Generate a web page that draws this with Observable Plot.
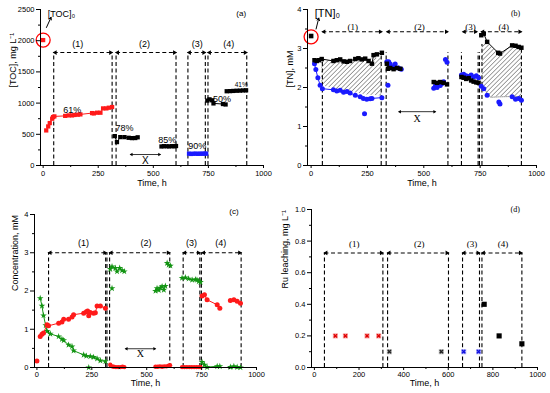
<!DOCTYPE html>
<html><head><meta charset="utf-8">
<script src="https://cdn.jsdelivr.net/npm/d3@7"></script>
<script src="https://cdn.jsdelivr.net/npm/@observablehq/plot@0.6"></script>
<style>
body{margin:0;background:#fff}
#wrap{position:relative;width:550px;height:393px;overflow:hidden}
.p{position:absolute}
</style></head>
<body>
<svg width="0" height="0" style="position:absolute">
  <defs>
    <pattern id="hatch" width="3.2" height="3.2" patternUnits="userSpaceOnUse" patternTransform="rotate(45)">
      <line x1="0" y1="0" x2="0" y2="3.2" stroke="#333" stroke-width="0.9"/>
    </pattern>
  </defs>
</svg>
<div id="wrap"></div>
<script>
// ---------- Panel (a): TOC ----------
const aT0 = [0], aV0 = [2010];
const aRedT = [14, 23, 30, 41, 45, 51, 100, 116, 131, 142, 157, 169, 222, 230, 245, 260, 272, 287, 298, 313];
const aRedV = [562, 626, 680, 750, 776, 787, 795, 803, 803, 810, 814, 819, 840, 835, 846, 846, 915, 915, 926, 937];
const aBlk2T = [325, 335, 350, 369, 388, 403, 418, 429];
const aBlk2V = [471, 375, 455, 455, 444, 439, 440, 452];
const aBlk3T = [537, 548, 560, 572, 584, 595, 603];
const aBlk3V = [305, 310, 308, 306, 310, 308, 312];
const aBluT = [662, 672, 682, 692, 702, 712, 722, 732, 740];
const aBluV = [190, 185, 188, 190, 186, 190, 188, 192, 190];
const aBlk4T = [745, 755, 767, 773, 816, 828];
const aBlk4V = [1040, 1060, 1045, 995, 985, 978];
const aBlk5T = [833, 848, 863, 878, 893, 908, 921];
const aBlk5V = [1190, 1192, 1195, 1198, 1200, 1203, 1205];
const aPctText = ["61%", "78%", "85%", "90%", "50%"];
const aPctT = [132, 369, 563, 699, 812];
const aPctV = [893, 598, 400, 310, 1069];
const aBrX1 = [48, 331, 657, 748], aBrX2 = [313, 603, 736, 924];
const aVLines = [48, 313, 331, 603, 657, 736, 748, 924];
const aBrY = 1810;
const aSecLabels = ["(1)", "(2)", "(3)", "(4)"], aSecT = [157, 460, 699, 842];

// ---------- Panel (b): TN ----------
const bT0 = [0], bV0 = [3.32];
const bBlk1T = [15, 25, 35, 47, 99, 114, 129, 144, 159, 173, 196, 210, 225, 240, 255, 270, 277, 292, 314];
const bBlk1V = [2.70, 2.68, 2.70, 2.73, 2.68, 2.70, 2.72, 2.67, 2.66, 2.68, 2.73, 2.75, 2.72, 2.74, 2.68, 2.61, 2.83, 2.85, 2.89];
const bBlu1T = [15, 21, 30, 40, 50, 99, 114, 129, 144, 159, 173, 196, 218, 232, 247, 262, 270, 314];
const bBlu1V = [2.61, 2.46, 2.25, 2.06, 1.97, 1.94, 1.91, 1.93, 1.88, 1.90, 1.86, 1.80, 1.76, 1.72, 1.70, 1.71, 1.72, 1.74];
const bBluOutT = [237, 341], bBluOutV = [1.33, 2.06];
const bBlk2T = [336, 341, 351, 366, 381, 396], bBlk2V = [2.61, 2.48, 2.50, 2.47, 2.50, 2.48];
const bBlu2T = [336, 344, 351, 366, 373, 388, 400], bBlu2V = [2.66, 2.66, 2.60, 2.54, 2.60, 2.50, 2.47];
const bBlk3T = [544, 559, 573, 588, 603], bBlk3V = [2.14, 2.12, 2.14, 2.12, 2.08];
const bBlu3T = [544, 552, 559, 566, 573, 581, 588], bBlu3V = [1.98, 2.05, 2.00, 2.07, 2.05, 2.10, 2.15];
const bBlu3bT = [596, 603], bBlu3bV = [2.72, 2.65];
const bBlk4T = [667, 677, 688, 699, 710, 721, 733, 743], bBlk4V = [2.27, 2.25, 2.22, 2.24, 2.18, 2.15, 2.13, 2.12];
const bBlu4T = [667, 677, 688, 699, 710, 721, 733, 743], bBlu4V = [2.32, 2.34, 2.30, 2.28, 2.32, 2.27, 2.30, 2.25];
const bBlk5T = [755, 766, 781, 830, 838, 892, 907, 921, 933], bBlk5V = [3.34, 3.38, 3.17, 2.89, 2.87, 3.08, 3.07, 3.04, 3.02];
const bBlu5T = [755, 766, 781, 833, 838, 892, 907, 921, 933], bBlu5V = [2.03, 1.97, 1.80, 1.63, 1.58, 1.76, 1.70, 1.72, 1.67];
const bHatch1T = [47, 100, 150, 200, 250, 313], bHatch1Hi = [2.70, 2.68, 2.68, 2.70, 2.72, 2.76], bHatch1Lo = [2.05, 1.96, 1.90, 1.86, 1.81, 1.78];
const bHatch2T = [760, 781, 796, 833, 893, 935], bHatch2Hi = [3.12, 3.16, 3.07, 2.86, 3.08, 3.03], bHatch2Lo = [2.05, 1.85, 1.75, 1.76, 1.77, 1.77];
const bBrX1 = [50, 336, 673, 755], bBrX2 = [314, 607, 736, 933];
const bVLines = [50, 311, 333, 607, 667, 741, 747, 758, 933];
const bVTops = [2.7, 2.9, 2.9, 2.9, 2.9, 2.9, 2.9, 3.1, 3.0];
const bBrY = 3.43;
const bSecT = [185, 481, 707, 855];

// ---------- Panel (c): concentrations ----------
const cRed0T = [0], cRed0V = [0.17];
const cRed1T = [15, 23, 30, 46, 53, 99, 114, 122, 144, 160, 167, 213, 225, 231, 236, 243, 258, 266, 274, 289, 312];
const cRed1V = [0.81, 0.87, 0.90, 1.12, 1.09, 1.16, 1.19, 1.26, 1.26, 1.32, 1.38, 1.42, 1.46, 1.48, 1.35, 1.44, 1.42, 1.43, 1.61, 1.61, 1.55];
const cGrn1T = [15, 23, 30, 40, 46, 61, 99, 114, 122, 144, 160, 167, 213, 225, 243, 258, 274, 289, 312];
const cGrn1V = [1.81, 1.61, 1.36, 1.10, 0.95, 0.88, 0.81, 0.74, 0.71, 0.59, 0.55, 0.44, 0.33, 0.30, 0.29, 0.27, 0.23, 0.18, 0.16];
const cGrnOutT = [236, 342], cGrnOutV = [0.0, 2.07];
const cGrn2T = [334, 342, 357, 365, 377, 388, 398], cGrn2V = [2.57, 2.64, 2.60, 2.51, 2.60, 2.54, 2.51];
const cGrn3T = [540, 547, 555, 562, 570, 578, 585], cGrn3V = [2.00, 2.07, 2.02, 2.08, 2.12, 2.03, 2.13];
const cGrn3bT = [593, 600, 608], cGrn3bV = [2.73, 2.68, 2.66];
const cRed2T = [334, 342, 350, 360, 370, 380, 390, 398], cRed2V = [0.07, 0.03, 0.02, 0.01, 0.01, 0.01, 0.02, 0.01];
const cRed3T = [540, 550, 560, 570, 580, 590, 600, 606], cRed3V = [0.02, 0.02, 0.03, 0.02, 0.03, 0.03, 0.05, 0.06];
const cGrn4T = [661, 676, 691, 707, 722, 729, 737, 745], cGrn4V = [2.34, 2.35, 2.32, 2.29, 2.30, 2.29, 2.25, 2.23];
const cRed4T = [661, 672, 683, 694, 705, 716, 727, 738, 745], cRed4V = [0.01, 0.01, 0.01, 0.01, 0.01, 0.01, 0.01, 0.01, 0.01];
const cRed5T = [752, 763, 775, 821, 833], cRed5V = [1.87, 1.90, 1.77, 1.64, 1.55];
const cRed6T = [881, 897, 912, 927], cRed6V = [1.75, 1.77, 1.73, 1.68];
const cGrn5T = [752, 763, 775, 821, 833], cGrn5V = [0.14, 0.07, 0.01, 0.03, 0.03];
const cGrn6T = [881, 897, 912, 927], cGrn6V = [0.01, 0.03, 0.01, 0.0];
const cBrX1 = [53, 331, 666, 752], cBrX2 = [316, 605, 742, 930];
const cVLines = [53, 313, 319, 331, 605, 666, 742, 749, 930];
const cBrY = 3.0;
const cSecT = [212, 497, 704, 837];

// ---------- Panel (d): Ru leaching ----------
const dRedT = [94, 139, 236, 288], dRedV = [0.2, 0.2, 0.2, 0.2];
const dGryT = [336, 569], dGryV = [0.1, 0.1];
const dBluT = [669, 736], dBluV = [0.1, 0.1];
const dBlkT = [761, 828, 930], dBlkV = [0.4, 0.2, 0.15];
const dBrX1 = [45, 328, 664, 751], dBrX2 = [307, 601, 740, 930];
const dVLines = [45, 307, 328, 601, 664, 740, 751, 930];
const dBrY = 0.725;
const dSecT = [179, 470, 706, 845];

// ---------- helpers ----------
const RED = "#ff1a1a", BLUE = "#1a1aff", GREEN = "#129412";
const pts = (T, V) => T.map((t, i) => ({t, v: V[i]}));
const dash = "4,2.6";
const SANS = "Liberation Sans, Arial, sans-serif";
const SERIF = "Liberation Serif, Times New Roman, serif";

function series(T, V, color, symbol, r, line = true) {
  const d = pts(T, V);
  const m = [];
  if (line) m.push(Plot.line(d, {x: "t", y: "v", stroke: color, strokeWidth: 1}));
  m.push(Plot.dot(d, {x: "t", y: "v", fill: color, stroke: "none", symbol, r}));
  return m;
}
function brackets(X1, X2, Y, VL, VTops, labels, labelT, labelY, font) {
  const br = X1.map((x, i) => ({x1: x, x2: X2[i]}));
  const vl = VL.map((x, i) => ({x, top: VTops ? VTops[i] : Y}));
  return [
    Plot.ruleX(vl, {x: "x", y1: 0, y2: "top", strokeDasharray: dash, strokeWidth: 1.1}),
    Plot.link(br, {x1: "x1", x2: "x2", y1: () => Y, y2: () => Y, strokeDasharray: dash, strokeWidth: 1.1, markerStart: "arrow", markerEnd: "arrow"}),
    Plot.text(labels.map((s, i) => ({s, t: labelT[i]})), {x: "t", y: () => labelY, text: "s", fontSize: 9, fontFamily: font})
  ];
}
function xArrow(x1, x2, y, ly, font) {
  return [
    Plot.link([{x1, x2}], {x1: "x1", x2: "x2", y1: () => y, y2: () => y, strokeWidth: 0.8, markerStart: "arrow", markerEnd: "arrow"}),
    Plot.text(["X"], {x: () => (x1 + x2) / 2, y: () => ly, text: d => d, fontSize: 10, fontFamily: font})
  ];
}
function panel(o) {
  return Plot.plot({
    width: 275, height: o.h,
    marginLeft: o.ml, marginRight: o.mr, marginTop: o.mt, marginBottom: o.mb,
    x: {domain: o.xDomain}, y: {domain: o.yDomain},
    style: {fontFamily: SANS, background: "white", overflow: "visible", color: "#000"},
    marks: [
      ...o.marks,
      Plot.ruleX([o.xDomain[0]], {strokeWidth: 1}),
      Plot.ruleY([o.yDomain[0]], {strokeWidth: 1}),
      Plot.axisX({ticks: o.xTicks, tickSize: o.ts, tickPadding: o.tp, fontSize: 7.5, label: null, tickFormat: d => String(d)}),
      Plot.axisX({ticks: o.xMinor, tickSize: 2, tickFormat: () => "", label: null}),
      Plot.axisY({ticks: o.yTicks, tickSize: 4, tickPadding: 2, fontSize: 7.5, label: null, tickFormat: o.yFmt}),
      Plot.axisY({ticks: o.yMinor, tickSize: 2, tickFormat: () => "", label: null}),
      Plot.text(["Time, h"], {frameAnchor: "bottom", dy: o.xLabDy, text: d => d, fontSize: 9}),
      Plot.text([o.yLabel], {frameAnchor: "left", dx: o.yLabDx, rotate: -90, text: d => d, fontSize: 9}),
      Plot.text([o.tag], {x: () => o.tagT, y: () => o.tagV, text: d => d, fontSize: 8, fontFamily: o.tagFont || SANS})
    ]
  });
}
function fixMarkers(svg) {
  d3.select(svg).selectAll("marker").each(function() {
    const m = d3.select(this);
    const c = m.attr("stroke") || "#000";
    m.attr("stroke-dasharray", "none").attr("orient", "auto-start-reverse").attr("fill", c).attr("stroke", "none");
    m.selectAll("path").attr("d", "M-4,-3.2L1.5,0L-4,3.2Z");
  });
  return svg;
}
function place(svg, left, top) {
  const div = document.createElement("div");
  div.className = "p"; div.style.left = left + "px"; div.style.top = top + "px";
  div.appendChild(fixMarkers(svg));
  document.getElementById("wrap").appendChild(div);
}

// ---------- (a) ----------
place(panel({
  h: 196, ml: 40, mr: 12, mt: 9, mb: 31, ts: 3, tp: 2,
  xDomain: [-12, 1000], yDomain: [0, 2500],
  xTicks: [0, 250, 500, 750, 1000], xMinor: [125, 375, 625, 875],
  yTicks: [0, 500, 1000, 1500, 2000, 2500], yMinor: [250, 750, 1250, 1750, 2250],
  yFmt: d => String(d), yLabel: "[TOC], mg L\u207B\u00B9", yLabDx: -27, xLabDy: 20,
  tag: "(a)", tagT: 899, tagV: 2431,
  marks: [
    ...brackets(aBrX1, aBrX2, aBrY, aVLines, null, aSecLabels, aSecT, 1950, SANS),
    ...xArrow(396, 532, 176, 69, SANS),
    ...series(aT0, aV0, RED, "square", 2.4, false),
    Plot.dot([{t: 0, v: 2010}], {x: "t", y: "v", r: 7, stroke: "red", fill: "none", strokeWidth: 1.3}),
    Plot.arrow([{x1: 15, y1: 2212, x2: 36, y2: 2375}], {x1: "x1", y1: "y1", x2: "x2", y2: "y2", headLength: 4, strokeWidth: 1}),
    Plot.text(["[TOC]\u2080"], {x: () => 21, y: () => 2420, text: d => d, textAnchor: "start", fontSize: 9}),
    ...series(aRedT, aRedV, RED, "square", 2.4),
    ...series(aBlk2T, aBlk2V, "#000", "square", 2.4),
    ...series(aBlk3T, aBlk3V, "#000", "square", 2.4),
    ...series(aBluT, aBluV, BLUE, "square", 2.4),
    ...series(aBlk4T, aBlk4V, "#000", "square", 2.4),
    ...series(aBlk5T, aBlk5V, "#000", "square", 2.4),
    Plot.text(aPctText.map((s, i) => ({s, t: aPctT[i], v: aPctV[i]})), {x: "t", y: "v", text: "s", fontSize: 9}),
    Plot.text(["41%"], {x: () => 899, y: () => 1295, text: d => d, fontSize: 6.5})
  ]
}), 0, 0);

// ---------- (b) ----------
place(panel({
  h: 196, ml: 32, mr: 14, mt: 9, mb: 31, ts: 3, tp: 2,
  xDomain: [-16, 1000], yDomain: [0, 4],
  xTicks: [0, 250, 500, 750, 1000], xMinor: [125, 375, 625, 875],
  yTicks: [0, 1, 2, 3, 4], yMinor: [0.5, 1.5, 2.5, 3.5],
  yFmt: d => String(d), yLabel: "[TN], mM", yLabDx: -17, xLabDy: 20,
  tag: "(b)", tagT: 907, tagV: 3.89, tagFont: SERIF,
  marks: [
    Plot.areaY(bHatch1T.map((t, i) => ({t, lo: bHatch1Lo[i], hi: bHatch1Hi[i]})), {x: "t", y1: "lo", y2: "hi", fill: "url(#hatch)"}),
    Plot.areaY(bHatch2T.map((t, i) => ({t, lo: bHatch2Lo[i], hi: bHatch2Hi[i]})), {x: "t", y1: "lo", y2: "hi", fill: "url(#hatch)"}),
    Plot.line(bHatch2T.map((t, i) => ({t, v: bHatch2Lo[i]})), {x: "t", y: "v", stroke: "#555", strokeWidth: 0.6, strokeDasharray: "1,1"}),
    ...brackets(bBrX1, bBrX2, bBrY, bVLines, bVTops, aSecLabels, bSecT, 3.55, SERIF),
    ...xArrow(389, 552, 1.38, 1.2, SERIF),
    ...series(bT0, bV0, "#000", "square", 2.6, false),
    Plot.dot([{t: 0, v: 3.3}], {x: "t", y: "v", r: 7, stroke: "red", fill: "none", strokeWidth: 1.3}),
    Plot.arrow([{x1: 22, y1: 3.5, x2: 34, y2: 3.78}], {x1: "x1", y1: "y1", x2: "x2", y2: "y2", headLength: 4, strokeWidth: 1}),
    Plot.text(["[TN]\u2080"], {x: () => 16, y: () => 3.9, text: d => d, textAnchor: "start", fontSize: 11}),
    ...series(bBlu1T, bBlu1V, BLUE, "circle", 2.5),
    ...series(bBluOutT, bBluOutV, BLUE, "circle", 2.5, false),
    ...series(bBlk1T, bBlk1V, "#000", "square", 2.5),
    ...series(bBlu2T, bBlu2V, BLUE, "circle", 2.5),
    ...series(bBlk2T, bBlk2V, "#000", "square", 2.5),
    ...series(bBlu3T, bBlu3V, BLUE, "circle", 2.5),
    ...series(bBlu3bT, bBlu3bV, BLUE, "circle", 2.5),
    ...series(bBlk3T, bBlk3V, "#000", "square", 2.5),
    ...series(bBlu4T, bBlu4V, BLUE, "circle", 2.5),
    ...series(bBlk4T, bBlk4V, "#000", "square", 2.5),
    ...series(bBlu5T, bBlu5V, BLUE, "circle", 2.5, false),
    ...series(bBlk5T, bBlk5V, "#000", "square", 2.5)
  ]
}), 275, 0);

// ---------- (c) ----------
place(panel({
  h: 197, ml: 34, mr: 19, mt: 18, mb: 26, ts: 3, tp: 1,
  xDomain: [-11, 1000], yDomain: [0, 4],
  xTicks: [0, 250, 500, 750, 1000], xMinor: [125, 375, 625, 875],
  yTicks: [0, 1, 2, 3, 4], yMinor: [0.5, 1.5, 2.5, 3.5],
  yFmt: d => String(d), yLabel: "Concentration, mM", yLabDx: -19, xLabDy: 18,
  tag: "(c)", tagT: 897, tagV: 4.08,
  marks: [
    ...brackets(cBrX1, cBrX2, cBrY, cVLines, null, aSecLabels, cSecT, 3.25, SANS),
    ...xArrow(403, 540, 0.49, 0.35, SERIF),
    ...series(cRed0T, cRed0V, RED, "circle", 2.5, false),
    ...series(cGrn1T, cGrn1V, GREEN, "star", 2.1),
    ...series(cGrnOutT, cGrnOutV, GREEN, "star", 2.1, false),
    ...series(cRed1T, cRed1V, RED, "circle", 2.5),
    ...series(cGrn2T, cGrn2V, GREEN, "star", 2.1),
    ...series(cGrn3T, cGrn3V, GREEN, "star", 2.1),
    ...series(cGrn3bT, cGrn3bV, GREEN, "star", 2.1),
    ...series(cRed2T, cRed2V, RED, "circle", 2.2),
    ...series(cRed3T, cRed3V, RED, "circle", 2.2),
    ...series(cGrn4T, cGrn4V, GREEN, "star", 2.1),
    ...series(cRed4T, cRed4V, RED, "circle", 2.2),
    ...series(cGrn5T, cGrn5V, GREEN, "star", 2.1),
    ...series(cGrn6T, cGrn6V, GREEN, "star", 2.1),
    ...series(cRed5T, cRed5V, RED, "circle", 2.5),
    ...series(cRed6T, cRed6V, RED, "circle", 2.5)
  ]
}), 0, 196);

// ---------- (d) ----------
function crossed(T, V, light, dark) {
  const d = pts(T, V);
  return [
    Plot.dot(d, {x: "t", y: "v", symbol: "square", r: 2.9, fill: light, stroke: "none"}),
    Plot.dot(d, {x: "t", y: "v", symbol: "times", r: 1.6, stroke: dark, strokeWidth: 1.4})
  ];
}
place(panel({
  h: 197, ml: 36, mr: 13, mt: 13, mb: 26, ts: 3, tp: 1,
  xDomain: [-13, 1000], yDomain: [0, 1],
  xTicks: [0, 200, 400, 600, 800, 1000], xMinor: [100, 300, 500, 700, 900],
  yTicks: [0, 0.2, 0.4, 0.6, 0.8, 1.0], yMinor: [0.1, 0.3, 0.5, 0.7, 0.9],
  yFmt: d3.format(".1f"), yLabel: "Ru leaching, mg L\u207B\u00B9", yLabDx: -26, xLabDy: 18,
  tag: "(d)", tagT: 900, tagV: 1.0, tagFont: SERIF,
  marks: [
    ...brackets(dBrX1, dBrX2, dBrY, dVLines, null, aSecLabels, dSecT, 0.78, SERIF),
    ...crossed(dRedT, dRedV, "#f8a8a8", "#e00000"),
    ...crossed(dGryT, dGryV, "#b8b8b8", "#222"),
    ...crossed(dBluT, dBluV, "#a8a8f8", "#1010e0"),
    Plot.dot(pts(dBlkT, dBlkV), {x: "t", y: "v", symbol: "square", r: 2.9, fill: "#000"})
  ]
}), 275, 196);
</script>
</body></html>
